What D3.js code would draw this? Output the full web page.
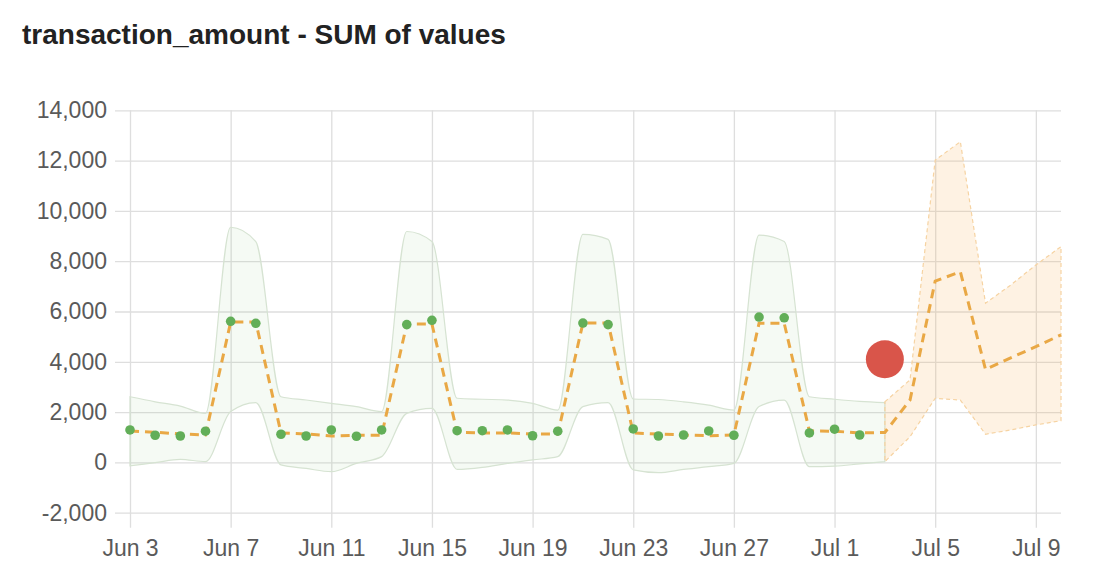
<!DOCTYPE html>
<html>
<head>
<meta charset="utf-8">
<script src="https://cdn.jsdelivr.net/npm/d3@7"></script>
<style>
  body { margin: 0; background: #fff; font-family: "Liberation Sans", Arial, Helvetica, sans-serif; }
  .axis text { font-size: 23px; fill: #5a5a5a; font-family: "Liberation Sans", Arial, sans-serif; }
  .axis line { stroke: #dedede; stroke-width: 1.3; }
</style>
</head>
<body>
<div id="chart"></div>
<script>
// データ
var startDate = new Date(2023, 5, 3);   // Jun 3
var endDate = new Date(2023, 6, 10);    // Jul 10

// 実測値 Jun 3 - Jul 2
var actualValues = [
  1290, 1080, 1050, 1240, 5610, 5530, 1120, 1050, 1290, 1040, 1290, 5480, 5650, 1260, 1260,
  1290, 1060, 1240, 5540, 5480, 1330, 1050, 1090, 1250, 1080, 5780, 5750, 1170, 1320, 1090
];
// 予測値 Jun 3 - Jul 10
var predictedValues = [
  1250, 1200, 1130, 1090, 5580, 5580, 1170, 1130, 1050, 1080, 1080, 5500, 5500, 1200, 1170,
  1170, 1130, 1130, 5540, 5540, 1170, 1130, 1090, 1060, 1090, 5530, 5530, 1250, 1240, 1170,
  1190, 2480, 7210, 7580, 3700, 4160, 4600, 5070
];
// 過去の信頼区間 Jun 3 - Jul 3
var historyUpper = [
  2610, 2410, 2240, 1950, 9350, 8780, 2610, 2480, 2350, 2220, 2020, 9180, 8780, 2550, 2510,
  2480, 2350, 2080, 9070, 8870, 2520, 2500, 2410, 2280, 2080, 9040, 8780, 2610, 2510, 2430, 2380
];
var historyLower = [
  -140, -10, 120, 30, 2020, 2380, -100, -240, -370, -40, 230, 1950, 2150, -280, -200,
  -40, 100, 230, 2220, 2380, -300, -410, -280, -170, -40, 2220, 2480, -170, -150, -60, 30
];
// 予測区間 Jul 3 - Jul 10
var forecastUpper = [2410, 3280, 12020, 12750, 6330, 7050, 7850, 8580];
var forecastLower = [30, 1020, 2550, 2480, 1120, 1290, 1490, 1660];
// 異常値
var anomaly = { date: new Date(2023, 6, 3), value: 4100 };

var yTicks = [-2000, 0, 2000, 4000, 6000, 8000, 10000, 12000, 14000];

var width = 1100, height = 582;
var padding = { top: 110.3, right: 39, bottom: 69.3, left: 130 };
var tickOut = 15;

var allDays = d3.timeDay.range(startDate, d3.timeDay.offset(endDate, 1));
var dayAt = function (i, offset) { return allDays[i + (offset || 0)]; };

var svg = d3.select("#chart").append("svg")
  .attr("width", width).attr("height", height);

var xScale = d3.scaleTime()
  .domain([startDate, endDate])
  .range([padding.left, width - padding.right]);
var yScale = d3.scaleLinear()
  .domain([-2000, 14000])
  .range([height - padding.bottom, padding.top]);

// タイトル
svg.append("text")
  .attr("x", 22).attr("y", 44)
  .style("font-size", "28px").style("font-weight", "bold").style("fill", "#222")
  .text("transaction_amount - SUM of values");

// Y軸グリッド（マイナスはハイフン表記）
var commaFormat = d3.format(",");
var plotW = width - padding.right - padding.left;
svg.append("g").attr("class", "axis")
  .attr("transform", "translate(" + (padding.left - tickOut) + ",0)")
  .call(d3.axisLeft(yScale).tickValues(yTicks).tickSize(-(plotW + tickOut)).tickPadding(8)
    .tickFormat(function (d) { return commaFormat(d).replace("\u2212", "-"); }))
  .call(function (g) { g.select(".domain").remove(); });

// X軸グリッド
var xTicks = d3.timeDay.range(startDate, d3.timeDay.offset(endDate, 1), 4);
var plotH = height - padding.bottom - padding.top;
svg.append("g").attr("class", "axis")
  .attr("transform", "translate(0," + (height - padding.bottom + tickOut) + ")")
  .call(d3.axisBottom(xScale).tickValues(xTicks).tickSize(-(plotH + tickOut)).tickPadding(12)
    .tickFormat(d3.timeFormat("%b %-d")))
  .call(function (g) { g.select(".domain").remove(); });

// 過去の信頼区間
var historyBand = historyUpper.map(function (u, i) {
  return { date: dayAt(i), upper: u, lower: historyLower[i] };
});
svg.append("path")
  .datum(historyBand)
  .attr("d", d3.area()
    .x(function (d) { return xScale(d.date); })
    .y0(function (d) { return yScale(d.lower); })
    .y1(function (d) { return yScale(d.upper); })
    .curve(d3.curveMonotoneX))
  .attr("fill", "rgba(130,185,110,0.08)")
  .attr("stroke", "#d6e3d2")
  .attr("stroke-width", 1.2);

// 予測区間
var forecastBand = forecastUpper.map(function (u, i) {
  return { date: dayAt(i, 30), upper: u, lower: forecastLower[i] };
});
svg.append("path")
  .datum(forecastBand)
  .attr("d", d3.area()
    .x(function (d) { return xScale(d.date); })
    .y0(function (d) { return yScale(d.lower); })
    .y1(function (d) { return yScale(d.upper); }))
  .attr("fill", "rgba(250,175,80,0.16)")
  .attr("stroke", "#f6d3a2")
  .attr("stroke-width", 1.2)
  .attr("stroke-dasharray", "4,3");

// 予測線
svg.append("path")
  .datum(predictedValues.map(function (v, i) { return { date: dayAt(i), value: v }; }))
  .attr("d", d3.line()
    .x(function (d) { return xScale(d.date); })
    .y(function (d) { return yScale(d.value); }))
  .attr("fill", "none")
  .attr("stroke", "#e9a845")
  .attr("stroke-width", 3)
  .attr("stroke-dasharray", "9,6");

// 実測値の点
svg.selectAll(".dot")
  .data(actualValues.map(function (v, i) { return { date: dayAt(i), value: v }; }))
  .enter().append("circle")
  .attr("class", "dot")
  .attr("cx", function (d) { return xScale(d.date); })
  .attr("cy", function (d) { return yScale(d.value); })
  .attr("r", 4.8)
  .attr("fill", "#62ae58");

// 異常値
svg.append("circle")
  .attr("cx", xScale(anomaly.date))
  .attr("cy", yScale(anomaly.value))
  .attr("r", 19)
  .attr("fill", "#d9554a");
</script>
</body>
</html>
